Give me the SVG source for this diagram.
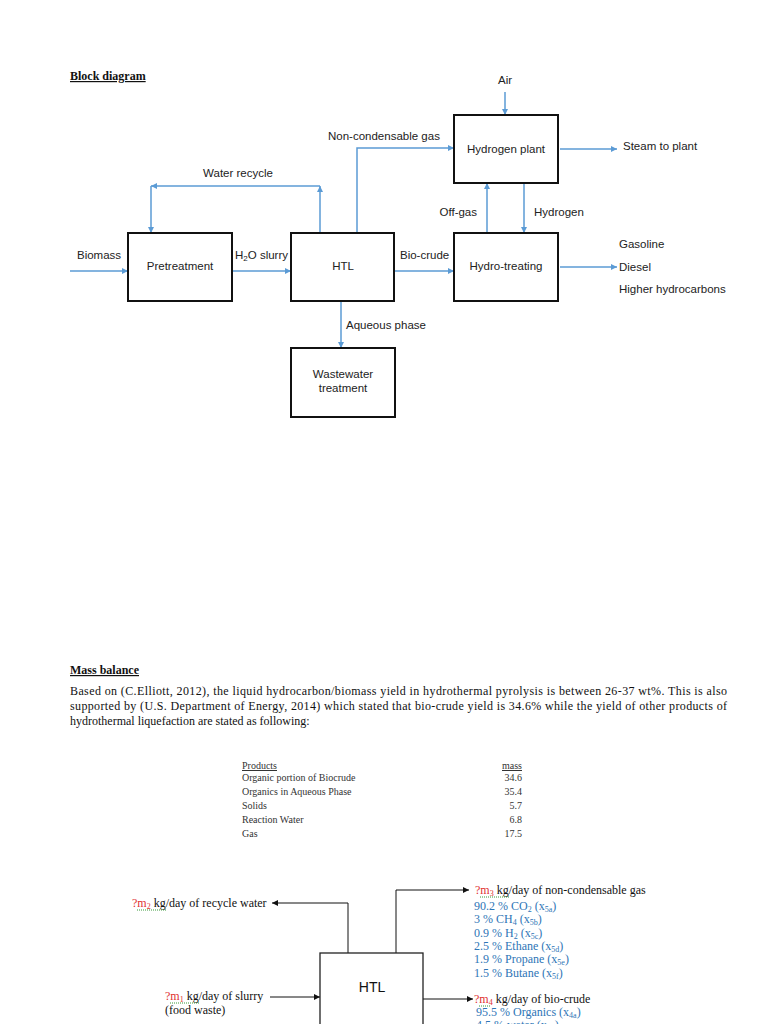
<svg xmlns="http://www.w3.org/2000/svg" width="768" height="1024" viewBox="0 0 768 1024">
<style>
.bg{fill:#fff}
.box{fill:#fff;stroke:#111;stroke-width:2}
.box2{fill:#fff;stroke:#222;stroke-width:1.3}
.bl{fill:none;stroke:#5b9bd5;stroke-width:1.5}
.kl{fill:none;stroke:#111;stroke-width:1}
.sans{font-family:"Liberation Sans",Arial,sans-serif;font-size:11.5px;fill:#222}
.serif{font-family:"Liberation Serif","Times New Roman",serif;font-size:12px;fill:#111}
.hd{font-family:"Liberation Serif","Times New Roman",serif;font-size:12px;font-weight:bold;fill:#111;text-decoration:underline}
.tb{font-family:"Liberation Serif","Times New Roman",serif;font-size:10px;fill:#333}
.red{fill:#e03030}
.blue{font-family:"Liberation Serif","Times New Roman",serif;font-size:12px;fill:#2e75b6}
.sub{font-size:8px}
.sq{stroke:#3a9a3a;stroke-width:1;stroke-dasharray:1,1;fill:none}
</style>
<defs>
<marker id="ab" viewBox="0 0 10 10" refX="10" refY="5" markerWidth="6" markerHeight="6" markerUnits="userSpaceOnUse" orient="auto">
<path d="M0,0 L10,5 L0,10 z" fill="#5b9bd5"/>
</marker>
<marker id="ak" viewBox="0 0 10 10" refX="10" refY="5" markerWidth="6" markerHeight="6" markerUnits="userSpaceOnUse" orient="auto">
<path d="M0,0 L10,5 L0,10 z" fill="#111"/>
</marker>
</defs>
<rect class="bg" x="0" y="0" width="768" height="1024"/>

<text class="hd" x="70" y="80">Block diagram</text>

<g id="connectors">
<path class="bl" d="M70,271 H128" marker-end="url(#ab)"/>
<path class="bl" d="M232,271 H291" marker-end="url(#ab)"/>
<path class="bl" d="M394,271 H454" marker-end="url(#ab)"/>
<path class="bl" d="M560,267 H617" marker-end="url(#ab)"/>
<path class="bl" d="M560,149 H617" marker-end="url(#ab)"/>
<path class="bl" d="M505,92 V115" marker-end="url(#ab)"/>
<path class="bl" d="M487,233 V183" marker-end="url(#ab)"/>
<path class="bl" d="M524,184 V233" marker-end="url(#ab)"/>
<path class="bl" d="M357,233 V148 H454" marker-end="url(#ab)"/>
<path class="bl" d="M320,233 V186" marker-end="url(#ab)"/>
<path class="bl" d="M320,186 H151" marker-end="url(#ab)"/>
<path class="bl" d="M151,186 V233" marker-end="url(#ab)"/>
<path class="bl" d="M341,302 V348" marker-end="url(#ab)"/>
<path class="kl" d="M348,953 V903 H272" marker-end="url(#ak)"/>
<path class="kl" d="M396,953 V890 H469" marker-end="url(#ak)"/>
<path class="kl" d="M270,997 H320" marker-end="url(#ak)"/>
<path class="kl" d="M423,999 H473" marker-end="url(#ak)"/>
</g>

<g id="pretreatment">
<rect class="box" x="128" y="233" width="104" height="68"/>
<text class="sans" x="180" y="270" text-anchor="middle">Pretreatment</text>
</g>
<g id="htl">
<rect class="box" x="291" y="233" width="103" height="68"/>
<text class="sans" x="343" y="270" text-anchor="middle">HTL</text>
</g>
<g id="hydrogen-plant">
<rect class="box" x="454" y="115" width="104" height="68"/>
<text class="sans" x="506" y="153" text-anchor="middle">Hydrogen plant</text>
</g>
<g id="hydro-treating">
<rect class="box" x="454" y="233" width="104" height="68"/>
<text class="sans" x="506" y="270" text-anchor="middle">Hydro-treating</text>
</g>
<g id="wastewater">
<rect class="box" x="291" y="348" width="104" height="69"/>
<text class="sans" x="343" y="378" text-anchor="middle">Wastewater</text>
<text class="sans" x="343" y="392" text-anchor="middle">treatment</text>
</g>

<g id="labels">
<text class="sans" x="77" y="259">Biomass</text>
<text class="sans" x="235" y="259">H<tspan class="sub" dy="2">2</tspan><tspan dy="-2">O slurry</tspan></text>
<text class="sans" x="400" y="259">Bio-crude</text>
<text class="sans" x="505" y="84" text-anchor="middle">Air</text>
<text class="sans" x="623" y="150">Steam to plant</text>
<text class="sans" x="477" y="216" text-anchor="end">Off-gas</text>
<text class="sans" x="534" y="216">Hydrogen</text>
<text class="sans" x="619" y="248">Gasoline</text>
<text class="sans" x="619" y="271">Diesel</text>
<text class="sans" x="619" y="293">Higher hydrocarbons</text>
<text class="sans" x="328" y="140">Non-condensable gas</text>
<text class="sans" x="238" y="177" text-anchor="middle">Water recycle</text>
<text class="sans" x="346" y="329">Aqueous phase</text>
</g>

<g id="mass-balance-text">
<text class="hd" x="70" y="674">Mass balance</text>
<text class="serif" x="70" y="695" textLength="657" lengthAdjust="spacing">Based on (C.Elliott, 2012), the liquid hydrocarbon/biomass yield in hydrothermal pyrolysis is between 26-37 wt%. This is also</text>
<text class="serif" x="70" y="710" textLength="657" lengthAdjust="spacing">supported by (U.S. Department of Energy, 2014) which stated that bio-crude yield is 34.6% while the yield of other products of</text>
<text class="serif" x="70" y="725">hydrothermal liquefaction are stated as following:</text>
</g>

<g id="table">
<text class="tb" x="242" y="769" text-decoration="underline">Products</text>
<text class="tb" x="242" y="781">Organic portion of Biocrude</text>
<text class="tb" x="242" y="795">Organics in Aqueous Phase</text>
<text class="tb" x="242" y="809">Solids</text>
<text class="tb" x="242" y="823">Reaction Water</text>
<text class="tb" x="242" y="837">Gas</text>
<text class="tb" x="522" y="769" text-anchor="end" text-decoration="underline">mass</text>
<text class="tb" x="522" y="781" text-anchor="end">34.6</text>
<text class="tb" x="522" y="795" text-anchor="end">35.4</text>
<text class="tb" x="522" y="809" text-anchor="end">5.7</text>
<text class="tb" x="522" y="823" text-anchor="end">6.8</text>
<text class="tb" x="522" y="837" text-anchor="end">17.5</text>
</g>

<g id="htl-balance">
<rect class="box2" x="320" y="953" width="103" height="100"/>
<text x="372" y="992" text-anchor="middle" style="font-family:'Liberation Sans',Arial,sans-serif;font-size:14px;fill:#111">HTL</text>
</g>

<g id="stream-labels">
<text class="serif" x="132" y="907"><tspan class="red">?m</tspan><tspan class="red sub" dy="2">2</tspan><tspan dy="-2"> kg/day of recycle water</tspan></text>
<path class="sq" d="M137,910 H166"/>
<text class="serif" x="165" y="1000"><tspan class="red">?m</tspan><tspan class="red sub" dy="2">1</tspan><tspan dy="-2"> kg/day of slurry</tspan></text>
<path class="sq" d="M170,1003 H199"/>
<text class="serif" x="165" y="1014">(food waste)</text>
<text class="serif" x="475" y="894"><tspan class="red">?m</tspan><tspan class="red sub" dy="2">3</tspan><tspan dy="-2"> kg/day of non-condensable gas</tspan></text>
<path class="sq" d="M480,897 H509"/>
<text class="blue" x="474" y="910">90.2 % CO<tspan class="sub" dy="2">2</tspan><tspan dy="-2"> (x</tspan><tspan class="sub" dy="2">5a</tspan><tspan dy="-2">)</tspan></text>
<text class="blue" x="474" y="923">3 % CH<tspan class="sub" dy="2">4</tspan><tspan dy="-2"> (x</tspan><tspan class="sub" dy="2">5b</tspan><tspan dy="-2">)</tspan></text>
<text class="blue" x="474" y="937">0.9 % H<tspan class="sub" dy="2">2</tspan><tspan dy="-2"> (x</tspan><tspan class="sub" dy="2">5c</tspan><tspan dy="-2">)</tspan></text>
<text class="blue" x="474" y="950">2.5 % Ethane (x<tspan class="sub" dy="2">5d</tspan><tspan dy="-2">)</tspan></text>
<text class="blue" x="474" y="963">1.9 % Propane (x<tspan class="sub" dy="2">5e</tspan><tspan dy="-2">)</tspan></text>
<text class="blue" x="474" y="977">1.5 % Butane (x<tspan class="sub" dy="2">5f</tspan><tspan dy="-2">)</tspan></text>
<text class="serif" x="474" y="1003"><tspan class="red">?m</tspan><tspan class="red sub" dy="2">4</tspan><tspan dy="-2"> kg/day of bio-crude</tspan></text>
<path class="sq" d="M479,1006 H491"/>
<text class="blue" x="476" y="1016">95.5 % Organics (x<tspan class="sub" dy="2">4a</tspan><tspan dy="-2">)</tspan></text>
<text class="blue" x="476" y="1029">4.5 % water (x<tspan class="sub" dy="2">4b</tspan><tspan dy="-2">)</tspan></text>
</g>
</svg>
